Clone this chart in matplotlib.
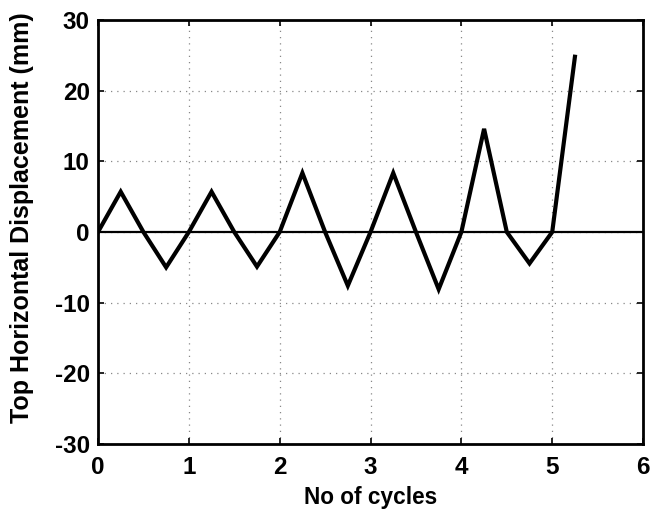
import matplotlib
matplotlib.use("Agg")
import matplotlib.pyplot as plt

cycles = [0, 0.25, 0.5, 0.75, 1, 1.25, 1.5, 1.75, 2, 2.25, 2.5, 2.75, 3,
          3.25, 3.5, 3.75, 4, 4.25, 4.5, 4.75, 5, 5.25]
displacement = [0, 5.7, 0, -5.0, 0, 5.7, 0, -4.9, 0, 8.35, 0, -7.6, 0,
                8.35, 0, -8.1, 0, 14.6, 0, -4.45, 0, 24.8]
xticks = [0, 1, 2, 3, 4, 5, 6]
yticks = [-30, -20, -10, 0, 10, 20, 30]

plt.rcParams['font.family'] = ['Liberation Sans', 'DejaVu Sans']
plt.rcParams['font.weight'] = 'bold'
plt.rcParams['axes.unicode_minus'] = False

fig = plt.figure(figsize=(6.52, 5.09), dpi=100)
ax = fig.add_axes([0.1503, 0.1277, 0.836, 0.833])

ax.axhline(0, color='black', linewidth=1.6, zorder=2)
ax.plot(cycles, displacement, color='black', linewidth=3.0, zorder=3,
        solid_joinstyle='miter')

ax.set_xlim(0, 6)
ax.set_ylim(-30, 30)
ax.set_xticks(xticks)
ax.set_yticks(yticks)
ax.grid(True, linestyle=(0, (1, 4)), color='#888888', linewidth=0.9)
ax.tick_params(direction='in', length=4, width=1.2, labelsize=17.5, top=True, right=True)
ax.tick_params(axis='x', pad=8.5)
ax.tick_params(axis='y', pad=6)
for lab in ax.get_xticklabels() + ax.get_yticklabels():
    lab.set_fontweight('bold')
for s in ax.spines.values():
    s.set_linewidth(2.0)

ax.set_xlabel('No of cycles', fontsize=16.3, fontweight='bold', labelpad=5)
ax.set_ylabel('Top Horizontal Displacement (mm)', fontsize=18, fontweight='bold')
ax.yaxis.set_label_coords(-0.1176, 0.533)

fig.savefig('out.png', dpi=100)
